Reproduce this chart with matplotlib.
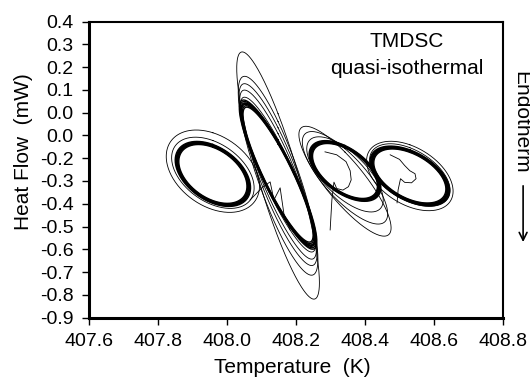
import numpy as np
import matplotlib
matplotlib.use('Agg')
import matplotlib.pyplot as plt

plt.rcParams['font.family'] = ['Liberation Sans', 'DejaVu Sans']

# modulation loops (Lissajous figures)
T_centre = [407.959, 408.148, 408.342, 408.530]
H_centre = [-0.269, -0.272, -0.256, -0.278]
T_amp = [0.104, 0.107, 0.099, 0.110]
H_amp = [0.136, 0.312, 0.127, 0.125]
lag_deg = [115, 153, 123, 119]

# steady cycles lying on top of each other -> the heavy rings
steady_scale = [0.95, 0.97, 0.99, 1.0, 1.01, 1.03, 1.05]

# early (transient) cycles of each loop
early_T_scale = [[1.15, 1.3], [1.02, 1.04, 1.06, 1.08, 1.12], [1.12, 1.25, 1.35], [1.06, 1.14]]
early_H_scale = [[1.15, 1.33], [1.09, 1.19, 1.28, 1.40, 1.74], [1.3, 1.6, 1.9], [1.1, 1.22]]
early_H_shift = [[0.005, 0.012], [0.0, 0.0, 0.0, -0.005, -0.004], [-0.015, -0.03, -0.045], [0.004, 0.0]]
early_lag = [[0, -4], [0, -2, -4, -6, -3], [10, 18, 25], [0, -3]]

# start-up curls inside the loops
curl_T = [[408.067, 408.104, 408.125, 408.136, 408.154, 408.165, 408.183],
          [408.284, 408.318, 408.345, 408.357, 408.360, 408.352, 408.336, 408.318, 408.310, 408.304, 408.299],
          [408.473, 408.500, 408.515, 408.530, 408.545, 408.548, 408.535, 408.515, 408.503, 408.496, 408.493]]
curl_H = [[-0.383, -0.326, -0.304, -0.383, -0.330, -0.445, -0.515],
          [-0.172, -0.185, -0.215, -0.255, -0.295, -0.325, -0.340, -0.333, -0.305, -0.383, -0.515],
          [-0.185, -0.205, -0.232, -0.255, -0.268, -0.290, -0.308, -0.306, -0.290, -0.339, -0.396]]

x_ticks = [407.6, 407.8, 408.0, 408.2, 408.4, 408.6, 408.8]
x_tick_labels = ['407.6', '407.8', '408.0', '408.2', '408.4', '408.6', '408.8']
y_ticks = [0.4, 0.3, 0.2, 0.1, 0.0, -0.1, -0.2, -0.3, -0.4, -0.5, -0.6, -0.7, -0.8, -0.9]
y_tick_labels = ['0.4', '0.3', '0.2', '0.1', '0.0', '0.0', '-0.2', '-0.3', '-0.4',
                 '-0.5', '-0.6', '-0.7', '-0.8', '-0.9']

fig = plt.figure(figsize=(5.3, 3.79), dpi=100)
ax = fig.add_axes([0.168, 0.162, 0.781, 0.781])

th = np.linspace(0, 2 * np.pi, 300)
for i in range(len(T_centre)):
    phi = np.radians(lag_deg[i])
    for s in steady_scale:
        ax.plot(T_centre[i] + s * T_amp[i] * np.sin(th),
                H_centre[i] + s * H_amp[i] * np.sin(th + phi), color='k', lw=1.0)
    for a, b, dh, dl in zip(early_T_scale[i], early_H_scale[i], early_H_shift[i], early_lag[i]):
        p = np.radians(lag_deg[i] + dl)
        ax.plot(T_centre[i] + a * T_amp[i] * np.sin(th),
                H_centre[i] + dh + b * H_amp[i] * np.sin(th + p), color='k', lw=0.6)

for ct, ch in zip(curl_T, curl_H):
    ax.plot(ct, ch, color='k', lw=0.6)

ax.set_xlim(407.6, 408.8)
ax.set_ylim(-0.9, 0.4)
ax.set_xticks(x_ticks)
ax.set_xticklabels(x_tick_labels)
ax.set_yticks(y_ticks)
ax.set_yticklabels(y_tick_labels)
ax.tick_params(direction='out', length=5, width=1, labelsize=14, pad=6,
               top=False, right=False)
for side in ['left', 'bottom']:
    ax.spines[side].set_linewidth(2.2)
for side in ['top', 'right']:
    ax.spines[side].set_linewidth(1.5)

ax.set_xlabel('Temperature  (K)', fontsize=15)
ax.xaxis.set_label_coords(0.49, -0.135)
ax.set_ylabel('Heat Flow  (mW)', fontsize=15)
ax.yaxis.set_label_coords(-0.135, 0.56)

ax.text(408.52, 0.313, 'TMDSC', fontsize=15, ha='center', va='center')
ax.text(408.52, 0.192, 'quasi-isothermal', fontsize=15, ha='center', va='center')

fig.text(0.983, 0.678, 'Endotherm', rotation=-90, ha='center', va='center', fontsize=15)
ax.annotate('', xy=(0.987, 0.354), xytext=(0.987, 0.517), xycoords='figure fraction',
            textcoords='figure fraction',
            arrowprops=dict(arrowstyle='->', color='k', lw=1.2, mutation_scale=14))

fig.savefig('out.png', dpi=100)
